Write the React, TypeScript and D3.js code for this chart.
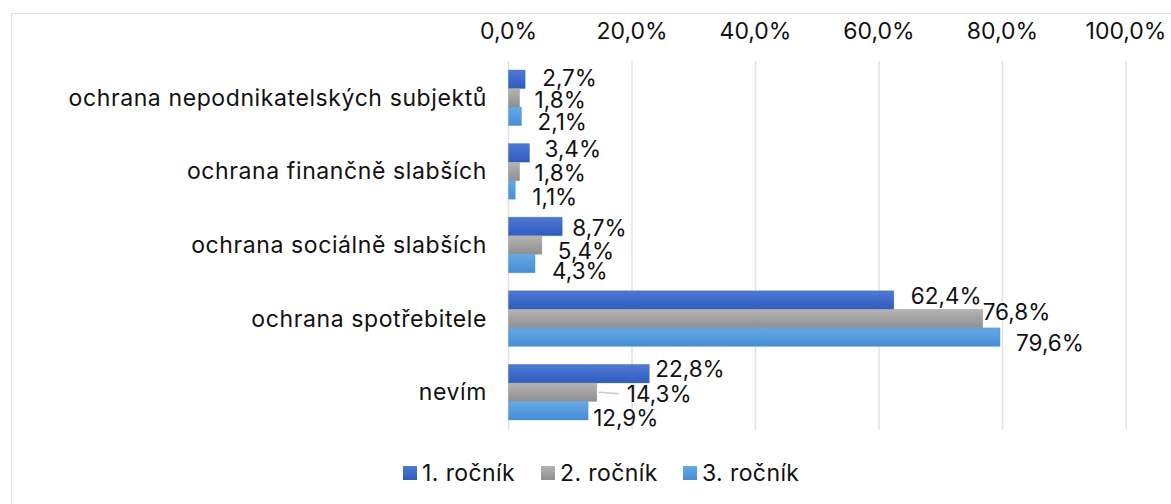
import React from 'react';
import * as d3 from 'd3';

const categories = [
  'ochrana nepodnikatelských subjektů',
  'ochrana finančně slabších',
  'ochrana sociálně slabších',
  'ochrana spotřebitele',
  'nevím',
];
const seriesNames = ['1. ročník', '2. ročník', '3. ročník'];
const rocnik1 = [2.7, 3.4, 8.7, 62.4, 22.8];
const rocnik2 = [1.8, 1.8, 5.4, 76.8, 14.3];
const rocnik3 = [2.1, 1.1, 4.3, 79.6, 12.9];
const xTicks = [0, 20, 40, 60, 80, 100];

// manual label placement (Excel-style moved labels), px from bar end / bar centre
const labelDx = [
  [17, 15, 10, 17, 6],
  [15, 15, 16, 0, 30],
  [16, 17, 17, 16, 5],
];
const labelDy = [
  [-1.5, -4, 1.5, -5, -5],
  [2, 1, 5, -7, 1.5],
  [5.5, 7, 6.5, 5, 7],
];

const seriesValues = [rocnik1, rocnik2, rocnik3];
const colors = [
  ['#5079d3', '#2e5bbf'],
  ['#b4b4b4', '#8f8f8f'],
  ['#67a9e5', '#468dd5'],
];

const W = 1171;
const H = 504;
const FONT = 'Inter, "Noto Sans", sans-serif';

const fmt = (v: number) => v.toFixed(1).replace('.', ',') + '%';

export default function App() {
  const x = d3.scaleLinear().domain([0, 100]).range([508.5, 1126]);
  const y = d3.scaleBand<string>()
    .domain(categories)
    .range([61, 429])
    .paddingInner(0.245)
    .paddingOuter(0.1225);
  const y1 = d3.scaleBand<string>()
    .domain(seriesNames)
    .range([0, y.bandwidth()]);

  return (
    <svg width={W} height={H} style={{ position: 'absolute', left: 0, top: 0, fontFamily: FONT }}>
      <defs>
        {colors.map((c, i) => (
          <linearGradient key={i} id={`g${i}`} x1="0" y1="0" x2="0" y2="1">
            <stop offset="0%" stopColor={c[0]} />
            <stop offset="100%" stopColor={c[1]} />
          </linearGradient>
        ))}
      </defs>
      <rect x={0} y={0} width={W} height={H} fill="#fff" />
      <rect x={11.5} y={13.5} width={W} height={H} fill="none" stroke="#d9dde6" />

      {xTicks.map((t) => (
        <g key={t}>
          <line x1={x(t)} x2={x(t)} y1={61} y2={430} stroke="#dfe3ea" strokeWidth={1.5} />
          <text x={x(t)} y={31} textAnchor="middle" dominantBaseline="central" fontSize={23} fill="#111">
            {fmt(t)}
          </text>
        </g>
      ))}

      {categories.map((c, ci) => (
        <g key={c}>
          <text x={487} y={(y(c) ?? 0) + y.bandwidth() / 2} textAnchor="end" dominantBaseline="central"
            fontSize={23} letterSpacing={0.6} fill="#111">
            {c}
          </text>
          {seriesNames.map((s, si) => {
            const v = seriesValues[si][ci];
            const by = (y(c) ?? 0) + (y1(s) ?? 0);
            const bh = y1.bandwidth();
            const dx = labelDx[si][ci];
            const ly = by + bh / 2 + labelDy[si][ci];
            return (
              <g key={s}>
                <rect x={x(0)} y={by} width={x(v) - x(0)} height={bh} fill={`url(#g${si})`}
                  stroke={colors[si][1]} strokeOpacity={0.4} strokeWidth={0.8} />
                {dx > 25 && (
                  <line x1={x(v) + 2} x2={x(v) + dx - 8} y1={by + bh / 2} y2={ly}
                    stroke="#c5cbd6" strokeWidth={1.5} />
                )}
                <text x={x(v) + dx} y={ly} dominantBaseline="central" fontSize={22.5} fill="#111">
                  {fmt(v)}
                </text>
              </g>
            );
          })}
        </g>
      ))}

      {seriesNames.map((s, i) => {
        const lx = [403, 541, 683][i];
        return (
          <g key={s}>
            <rect x={lx} y={466} width={14} height={14} fill={`url(#g${i})`} />
            <text x={lx + 19} y={473} dominantBaseline="central" fontSize={23} letterSpacing={0.4} fill="#111">{s}</text>
          </g>
        );
      })}
    </svg>
  );
}
